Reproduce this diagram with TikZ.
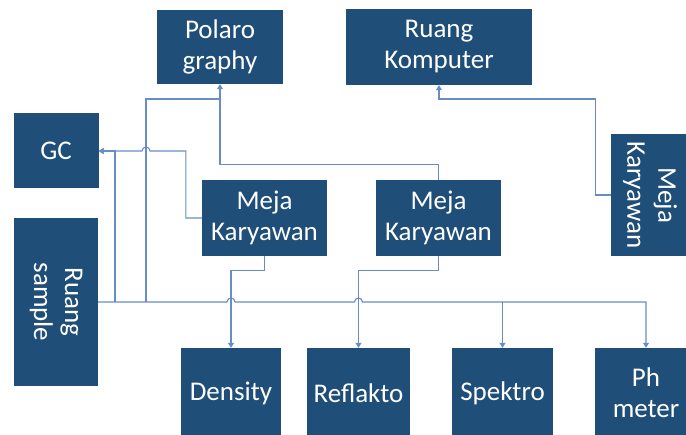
\documentclass[tikz,border=0pt]{standalone}
\usepackage{fontspec}
\setmainfont{Carlito}
\usepackage{tikz}
\usetikzlibrary{arrows.meta,calc}
\definecolor{roomblue}{RGB}{31,78,121}
\definecolor{pipeblue}{RGB}{104,140,200}

\begin{document}
\begin{tikzpicture}[x=1pt,y=-1pt,
    room/.style={fill=roomblue, text=white, inner sep=0pt, align=center,
        font=\fontsize{27}{31}\selectfont},
    pipe/.style={draw=pipeblue, line width=1.1pt},
    tip/.style={-{Triangle[width=6pt,length=5pt]}}]

% kanvas: 686 x 435, y ke bawah
\clip (0,0) rectangle (686,435);

% ruangan atas
\node[room, minimum width=126pt, minimum height=74pt] (polaro) at (220,47) {Polaro\\graphy};
\node[room, minimum width=186pt, minimum height=76pt] (komp) at (439,47) {Ruang\\Komputer};

% kiri
\node[room, minimum width=85pt, minimum height=75pt] (gc) at (56,151) {GC};
\node[room, rotate=-90, minimum width=168pt, minimum height=84pt] (sample) at (56,302) {Ruang\\sample};

% meja karyawan
\node[room, minimum width=125pt, minimum height=76pt] (meja1) at (264.5,218) {Meja\\Karyawan};
\node[room, minimum width=125pt, minimum height=76pt] (meja2) at (438.5,218) {Meja\\Karyawan};
\node[room, rotate=-90, minimum width=122pt, minimum height=78pt] (meja3) at (650,195) {Meja\\Karyawan};

% ruangan bawah (terpotong di tepi)
\node[room, minimum width=100pt, minimum height=90pt] (density) at (231,393) {Density};
\node[room, minimum width=103pt, minimum height=90pt] (reflakto) at (358.5,393) {Reflakto};
\node[room, minimum width=101pt, minimum height=90pt] (spektro) at (502.5,393) {Spektro};
\node[room, minimum width=102pt, minimum height=90pt] (phmeter) at (646,393) {Ph\\meter};

% titik bantu
\coordinate (bus) at (0,302);
\coordinate (upper) at (0,99);
\coordinate (j1) at (115,302);
\coordinate (j2) at (146,302);
\coordinate (j3) at (spektro.north |- bus);
\coordinate (j4) at (phmeter.north |- bus);
\coordinate (pj) at (polaro.south |- upper);
\coordinate (kj) at (komp.south |- upper);

% jalur utama dari ruang sample
\draw[pipe, tip] (sample.north) -- ($(density.north |- bus)+(-4,0)$) arc (180:360:4)
    -- ($(reflakto.north |- bus)+(-4,0)$) arc (180:360:4) -- (j4) -- (phmeter.north);
\draw[pipe, tip] (j3) -- (spektro.north);
\draw[pipe, tip] (j1) |- (gc.east);
\draw[pipe] (j2) |- (pj);

% meja karyawan 1
\draw[pipe, tip] (meja1.west) -- ++(-16,0) |- ($(j2 |- gc.east)+(4,0)$) arc (360:180:4) -- (gc.east);
\draw[pipe, tip] (meja1.south) -- ++(0,14) -| (density.north);

% meja karyawan 2
\draw[pipe, tip] (meja2.north) -- ++(0,-15) -| (polaro.south);
\draw[pipe, tip] (meja2.south) -- ++(0,14) -| (reflakto.north);

% meja karyawan 3
\draw[pipe, tip] (meja3.south) -- ++(-15,0) |- (kj) -- (komp.south);

\end{tikzpicture}
\end{document}
